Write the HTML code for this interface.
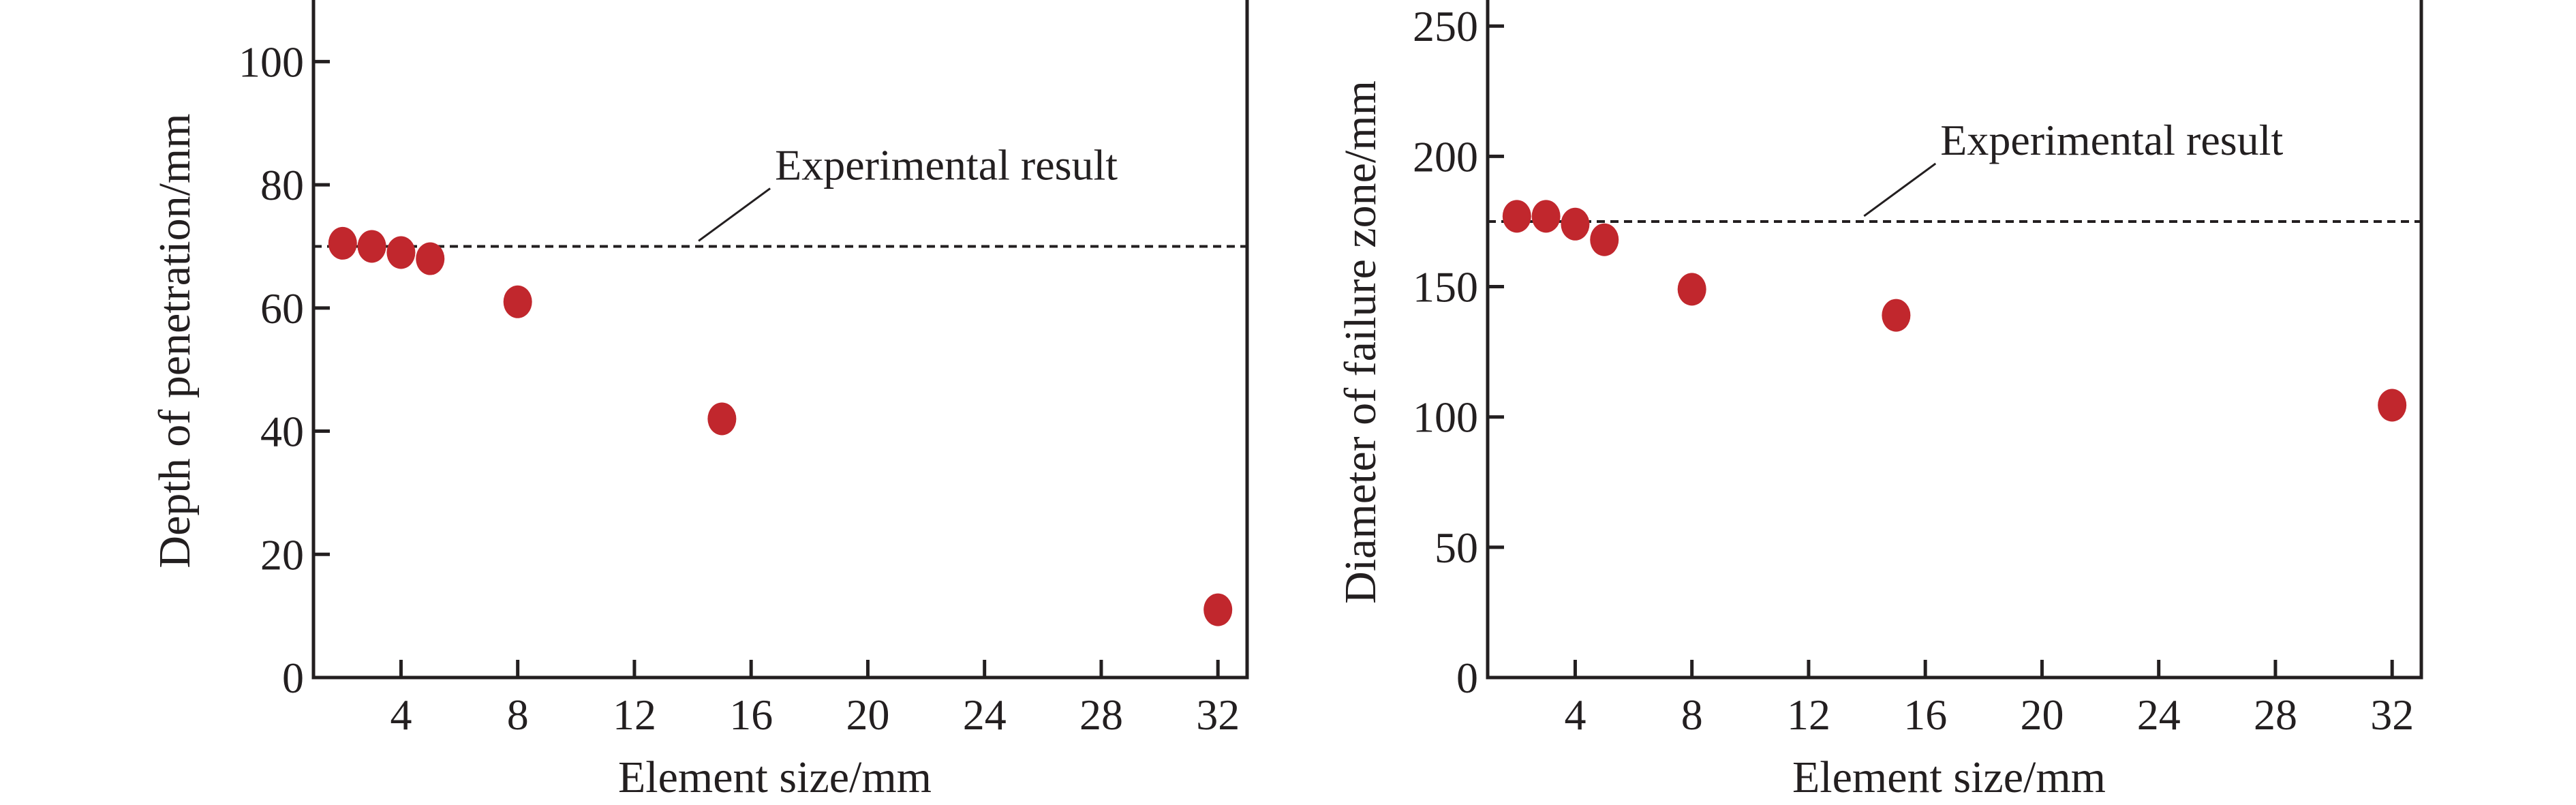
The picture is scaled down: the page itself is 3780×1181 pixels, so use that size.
<!DOCTYPE html>
<html><head><meta charset="utf-8"><style>
html,body{margin:0;padding:0;background:#fff;}
svg{display:block;}
text{font-family:"Liberation Serif",serif;fill:#231f20;}
</style></head><body>
<svg id="chart" width="3780" height="1181" viewBox="0 0 3780 1181" xmlns="http://www.w3.org/2000/svg"></svg>
<script>
const sizes = [2, 3, 4, 5, 8, 15, 32];
const depthValues = [70.5, 70, 69, 68, 61, 42, 11];
const diameterValues = [177, 177, 174, 168, 149, 139, 104.5];
const depthExperimental = 70;
const diameterExperimental = 175;
const xTicks = [4, 8, 12, 16, 20, 24, 28, 32];
const depthTicks = [0, 20, 40, 60, 80, 100];
const diameterTicks = [0, 50, 100, 150, 200, 250];

const NS = 'http://www.w3.org/2000/svg';
const svg = document.getElementById('chart');
function mk(tag, attrs, parent) {
  const e = document.createElementNS(NS, tag);
  for (const k in attrs) e.setAttribute(k, attrs[k]);
  (parent || svg).appendChild(e);
  return e;
}

function panel(cfg) {
  const g = mk('g', {});
  
  
  const L = cfg.left, R = cfg.right, T = 0, B = 994;
  const xs = v => L + (v - 1) / (33 - 1) * (R - L);
  const ys = v => B - v / cfg.ymax * (B - T);
  const frame = mk('rect', {x: L, y: T - 4, width: R - L, height: B - T + 4, fill: 'none', stroke: '#231f20', 'stroke-width': 5}, g);
  
  
  xTicks.forEach(t => {
    const x = xs(t);
    const tk = mk('line', {x1: x, x2: x, y1: B, y2: B - 26, stroke: '#231f20', 'stroke-width': 5}, g);
    
    
    const lb = mk('text', {x: x, y: 1070, 'font-size': 64, 'text-anchor': 'middle'}, g);
    lb.textContent = t;
    
    
  });
  cfg.ticks.forEach(t => {
    const y = ys(t);
    const tk = mk('line', {x1: L, x2: L + 24, y1: y, y2: y, stroke: '#231f20', 'stroke-width': 5}, g);
    
    
    const lb = mk('text', {x: L - 14, y: y + 22, 'font-size': 64, 'text-anchor': 'end'}, g);
    lb.textContent = t;
    
    
  });
  const ey = ys(cfg.exp);
  const dl = mk('line', {x1: L, x2: R, y1: ey, y2: ey, stroke: '#231f20', 'stroke-width': 4, 'stroke-dasharray': '12 8'}, g);
  
  
  const lx = xs(cfg.leadX);
  const ld = mk('line', {x1: lx, y1: ey - 8, x2: lx + 105, y2: ey - 85, stroke: '#231f20', 'stroke-width': 3}, g);
  
  
  const at = mk('text', {x: lx + 112, y: ey - 98, 'font-size': 64}, g);
  at.textContent = 'Experimental result';
  
  
  sizes.forEach((s, i) => {
    const c = mk('ellipse', {cx: xs(s), cy: ys(cfg.vals[i]), rx: 21, ry: 24, fill: '#c1272d'}, g);
    
    
  });
  const xt = mk('text', {x: (L + R) / 2 - 8, y: 1162, 'font-size': 66, 'text-anchor': 'middle'}, g);
  xt.textContent = 'Element size/mm';
  
  
  const yt = mk('text', {x: 0, y: 0, 'font-size': 66, 'text-anchor': 'middle', transform: `translate(${cfg.ytx},${cfg.yty}) rotate(-90)`}, g);
  yt.textContent = cfg.ytitle;
  
  
}

panel({name: 'depth-panel', left: 460, right: 1830, ymax: 110, ticks: depthTicks, vals: depthValues, exp: depthExperimental, leadX: 14.2, ytitle: 'Depth of penetration/mm', ytx: 278, yty: 500});
panel({name: 'diameter-panel', left: 2183, right: 3553, ymax: 260, ticks: diameterTicks, vals: diameterValues, exp: diameterExperimental, leadX: 13.9, ytitle: 'Diameter of failure zone/mm', ytx: 2018, yty: 502});
</script>
</body></html>
